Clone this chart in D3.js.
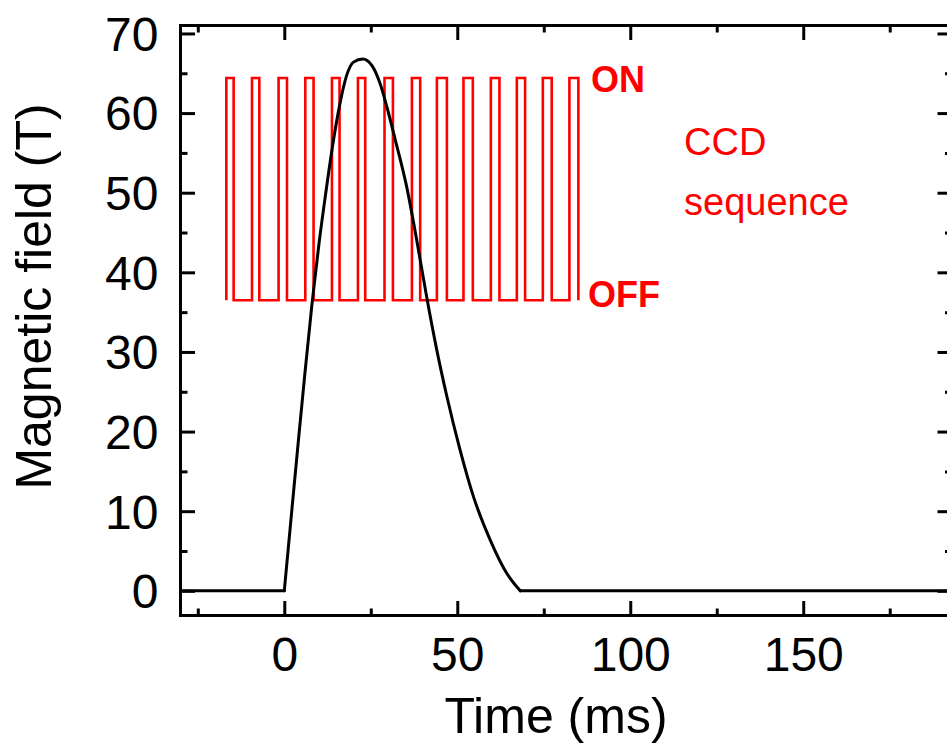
<!DOCTYPE html>
<html>
<head>
<meta charset="utf-8">
<script src="https://cdn.jsdelivr.net/npm/d3@7"></script>
<style>
  html, body { margin: 0; padding: 0; background: #fff; }
  svg { display: block; font-family: "Liberation Sans", Arial, sans-serif; }
</style>
</head>
<body>
<svg id="chart" width="947" height="751"></svg>
<script>
// ---- data ----
const timeMs = [-30, 0, 2, 4, 6, 8, 10, 12, 14, 16, 18, 20, 22.7, 25.3, 27.7, 29.7, 32.1, 35.4, 38.3, 41.2, 44.1, 47.0, 50.8, 54.7, 59.5, 64.3, 68.2, 193];
const fieldT = [0, 0, 9.3, 18.5, 27.5, 36.0, 43.5, 50.0, 56.0, 61.0, 64.7, 66.4, 66.8, 66.0, 63.7, 60.7, 56.6, 50.7, 44.0, 36.8, 30.2, 24.4, 17.7, 11.8, 6.4, 2.2, 0, 0];

const ccdOn  = [-16.75, -9.33, -1.65, 6.07, 13.78, 21.29, 28.97, 36.89, 44.11, 51.79, 59.71, 67.22, 74.73, 82.41];
const ccdOff = [-14.64, -7.22, 0.78, 8.46, 15.97, 23.4, 31.4, 39.28, 47.0, 54.5, 62.19, 69.6, 77.3, 85.0];
const ccdLevels = [36.5, 64.4]; // OFF, ON levels drawn on field axis

const xMajorTicks = [0, 50, 100, 150];
const xMinorTicks = [-25, 25, 75, 125, 175];
const yMajorTicks = [0, 10, 20, 30, 40, 50, 60, 70];
const yMinorTicks = [5, 15, 25, 35, 45, 55, 65];

const xLabel = "Time (ms)";
const yLabel = "Magnetic field (T)";

// ---- layout ----
const svg = d3.select("#chart");
const x = d3.scaleLinear().domain([-30, 193]).range([180.5, 952]);
const y = d3.scaleLinear().domain([-3.1, 71]).range([615.5, 25.5]);
const [x0, x1] = x.range();
const [y0, y1] = y.range();

const majorLen = 14.5, minorLen = 7;

function styleAxis(g) {
  g.select(".domain").remove();
  g.selectAll(".tick line").attr("stroke", "#000").attr("stroke-width", 3);
}
const fontFam = "Liberation Sans, Arial, sans-serif";

// bottom
svg.append("g").attr("transform", `translate(0,${y0})`)
  .call(d3.axisBottom(x).tickValues(xMajorTicks).tickSize(-majorLen).tickSizeOuter(0).tickPadding(21).tickFormat(d3.format("d")))
  .call(styleAxis)
  .call(g => g.selectAll("text").attr("font-size", 48).attr("fill", "#000").attr("font-family", fontFam));
svg.append("g").attr("transform", `translate(0,${y0})`)
  .call(d3.axisBottom(x).tickValues(xMinorTicks).tickSize(-minorLen).tickSizeOuter(0).tickFormat(""))
  .call(styleAxis);
// top
svg.append("g").attr("transform", `translate(0,${y1})`)
  .call(d3.axisTop(x).tickValues(xMajorTicks).tickSize(-majorLen).tickSizeOuter(0).tickFormat(""))
  .call(styleAxis);
svg.append("g").attr("transform", `translate(0,${y1})`)
  .call(d3.axisTop(x).tickValues(xMinorTicks).tickSize(-minorLen).tickSizeOuter(0).tickFormat(""))
  .call(styleAxis);
// left
svg.append("g").attr("transform", `translate(${x0},0)`)
  .call(d3.axisLeft(y).tickValues(yMajorTicks).tickSize(-majorLen).tickSizeOuter(0).tickPadding(22).tickFormat(d3.format("d")))
  .call(styleAxis)
  .call(g => g.selectAll("text").attr("font-size", 48).attr("fill", "#000").attr("dy", "0.35em").attr("font-family", fontFam));
svg.append("g").attr("transform", `translate(${x0},0)`)
  .call(d3.axisLeft(y).tickValues(yMinorTicks).tickSize(-minorLen).tickSizeOuter(0).tickFormat(""))
  .call(styleAxis);
// right
svg.append("g").attr("transform", `translate(${x1},0)`)
  .call(d3.axisRight(y).tickValues(yMajorTicks).tickSize(-majorLen).tickSizeOuter(0).tickFormat(""))
  .call(styleAxis);
svg.append("g").attr("transform", `translate(${x1},0)`)
  .call(d3.axisRight(y).tickValues(yMinorTicks).tickSize(-minorLen).tickSizeOuter(0).tickFormat(""))
  .call(styleAxis);

// frame
svg.append("rect")
  .attr("x", x0).attr("y", y1).attr("width", x1 - x0).attr("height", y0 - y1)
  .attr("fill", "none").attr("stroke", "#000").attr("stroke-width", 3);

// CCD sequence
const ccdPts = [];
ccdOn.forEach((t, i) => {
  ccdPts.push([t, ccdLevels[0]], [t, ccdLevels[1]], [ccdOff[i], ccdLevels[1]], [ccdOff[i], ccdLevels[0]]);
});
svg.append("path")
  .datum(ccdPts)
  .attr("fill", "none").attr("stroke", "#ff0000").attr("stroke-width", 2.6)
  .attr("stroke-linejoin", "miter")
  .attr("d", d3.line().x(d => x(d[0])).y(d => y(d[1])));

// Field curve: flat baseline segments drawn straight, pulse drawn smooth
const fieldPts = timeMs.map((t, i) => [t, fieldT[i]]);
const iStart = timeMs.findIndex(t => t >= 0);
const iEnd = fieldT.findIndex((v, i) => i > iStart + 1 && v === 0);
const lineLin = d3.line().x(d => x(d[0])).y(d => y(d[1]));
const lineSmooth = d3.line().x(d => x(d[0])).y(d => y(d[1])).curve(d3.curveMonotoneX);
const curveG = svg.append("g").attr("fill", "none").attr("stroke", "#000").attr("stroke-width", 3)
  .attr("stroke-linejoin", "round").attr("stroke-linecap", "round");
curveG.append("path").attr("d", lineLin(fieldPts.slice(0, iStart + 1)));
curveG.append("path").attr("d", lineSmooth(fieldPts.slice(iStart, iEnd + 1)));
curveG.append("path").attr("d", lineLin(fieldPts.slice(iEnd)));

// annotations
svg.append("text").attr("x", 591).attr("y", 92).attr("fill", "#ff0000")
  .attr("font-size", 36).attr("font-weight", "bold").text("ON");
svg.append("text").attr("x", 588).attr("y", 307).attr("fill", "#ff0000")
  .attr("font-size", 36).attr("font-weight", "bold").text("OFF");
svg.append("text").attr("x", 684).attr("y", 155).attr("fill", "#ff0000")
  .attr("font-size", 38).text("CCD");
svg.append("text").attr("x", 684).attr("y", 215).attr("fill", "#ff0000")
  .attr("font-size", 38).text("sequence");

// axis titles
svg.append("text").attr("x", 556).attr("y", 733).attr("text-anchor", "middle")
  .attr("font-size", 50).attr("fill", "#000").text(xLabel);
svg.append("text").attr("transform", `translate(51,${(y0 + y1) / 2 - 24}) rotate(-90)`)
  .attr("text-anchor", "middle").attr("font-size", 50).attr("fill", "#000").text(yLabel);
</script>
</body>
</html>
